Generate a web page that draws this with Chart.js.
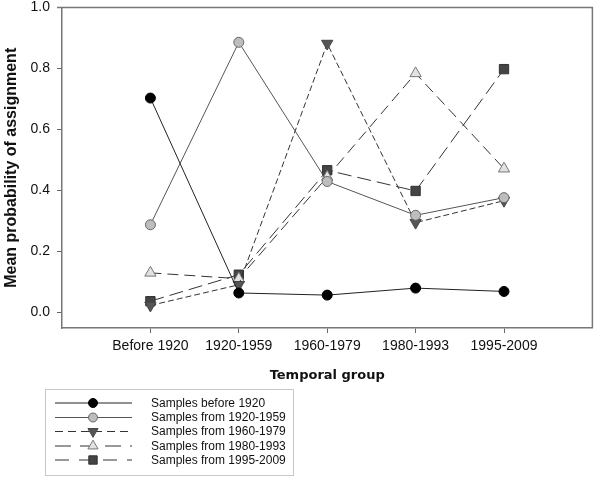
<!DOCTYPE html>
<html>
<head>
<meta charset="utf-8">
<script src="https://cdn.jsdelivr.net/npm/chart.js@4/dist/chart.umd.min.js"></script>
<style>
html,body{margin:0;padding:0;background:#fff;}
#wrap{width:600px;height:480px;position:relative;}
</style>
</head>
<body>
<div id="wrap"><canvas id="c" width="600" height="480"></canvas></div>
<script>
const categories = ['Before 1920', '1920-1959', '1960-1979', '1980-1993', '1995-2009'];
const yTicks = [0.0, 0.2, 0.4, 0.6, 0.8, 1.0];
const seriesNames = ['Samples before 1920', 'Samples from 1920-1959', 'Samples from 1960-1979', 'Samples from 1980-1993', 'Samples from 1995-2009'];
const before1920 = [0.703, 0.063, 0.056, 0.079, 0.068];
const from1920_1959 = [0.287, 0.886, 0.429, 0.318, 0.376];
const from1960_1979 = [0.022, 0.090, 0.882, 0.294, 0.366];
const from1980_1993 = [0.129, 0.110, 0.444, 0.784, 0.471];
const from1995_2009 = [0.036, 0.123, 0.466, 0.398, 0.798];

const styles = [
  {line:'#222', fill:'#000', border:'#000', dash:[], shape:'circle', r:5, rot:0},
  {line:'#555', fill:'#bdbdbd', border:'#666', dash:[], shape:'circle', r:5, rot:0},
  {line:'#333', fill:'#555', border:'#444', dash:[6,3], shape:'triangle', r:6.5, rot:180},
  {line:'#333', fill:'#e2e2e2', border:'#777', dash:[11,6], shape:'triangle', r:6.5, rot:0},
  {line:'#333', fill:'#444', border:'#333', dash:[14,6], shape:'rect', r:6.6, rot:0}
];
const allSeries = [before1920, from1920_1959, from1960_1979, from1980_1993, from1995_2009];

const datasets = allSeries.map((vals, k) => ({
  label: seriesNames[k],
  data: vals.map((v, i) => ({x: i + 1, y: v})),
  borderColor: styles[k].line,
  borderWidth: 1,
  borderDash: styles[k].dash,
  pointStyle: styles[k].shape,
  pointRotation: styles[k].rot,
  pointRadius: styles[k].r,
  pointBackgroundColor: styles[k].fill,
  pointBorderColor: styles[k].border,
  pointBorderWidth: 1,
  fill: false,
  tension: 0
}));

const frame = {
  id: 'frame',
  beforeDatasetsDraw(chart) {
    const {ctx, chartArea: a} = chart;
    ctx.save();
    ctx.strokeStyle = '#777';
    ctx.lineWidth = 1.5;
    ctx.beginPath();
    ctx.moveTo(57, a.top);
    ctx.lineTo(a.right, a.top);
    ctx.lineTo(a.right, a.bottom);
    ctx.stroke();
    ctx.restore();
  },
  afterDraw(chart) {
    const ctx = chart.ctx;
    ctx.save();
    ctx.strokeStyle = '#c8c8c8';
    ctx.lineWidth = 1;
    ctx.strokeRect(45.5, 389.5, 248, 86);
    const rows = [403, 417.5, 431.5, 446, 460];
    const legendDash = [[], [], [8, 5], [16, 9], [14, 10]];
    ctx.font = '12px "Liberation Sans", Arial, sans-serif';
    ctx.textBaseline = 'middle';
    rows.forEach((y, k) => {
      const s = styles[k];
      ctx.save();
      ctx.strokeStyle = s.line;
      ctx.lineWidth = 1;
      ctx.setLineDash(legendDash[k]);
      ctx.beginPath();
      ctx.moveTo(55, y);
      ctx.lineTo(132, y);
      ctx.stroke();
      ctx.setLineDash([]);
      ctx.fillStyle = s.fill;
      ctx.strokeStyle = s.border;
      Chart.helpers.drawPoint(ctx, {pointStyle: s.shape, rotation: s.rot, radius: s.r * 0.9, borderWidth: 1}, 93, y);
      ctx.restore();
      ctx.fillStyle = '#111';
      ctx.fillText(seriesNames[k], 151, y + 0.5);
    });
    ctx.restore();
  }
};

new Chart(document.getElementById('c'), {
  type: 'line',
  data: {datasets},
  plugins: [frame],
  options: {
    responsive: false,
    animation: false,
    layout: {padding: {left: 0, top: 6, right: 3, bottom: 93}},
    plugins: {legend: {display: false}, tooltip: {enabled: false}},
    scales: {
      x: {
        type: 'linear',
        min: 0, max: 6,
        afterFit(s) { s.height = 59; s.paddingLeft = 0; s.paddingRight = 0; },
        afterBuildTicks(s) {
          s.ticks = categories.map((c, i) => ({value: i + 1}));
        },
        ticks: {
          callback: v => categories[v - 1] || '',
          font: {family: '"Liberation Sans", Arial, sans-serif', size: 14},
          color: '#111',
          padding: 5,
          maxRotation: 0,
          autoSkip: false
        },
        grid: {drawOnChartArea: false, drawTicks: true, tickLength: 5, color: '#666', tickWidth: 1},
        border: {color: '#777', width: 1.5},
        title: {
          display: true,
          text: 'Temporal group',
          font: {family: '"DejaVu Sans", Verdana, sans-serif', size: 13, weight: 'bold'},
          color: '#111',
          padding: {top: 4, bottom: 4}
        }
      },
      y: {
        type: 'linear',
        min: -0.052, max: 1.0,
        afterFit(s) { s.width = 62; s.paddingTop = 0; s.paddingBottom = 0; },
        afterBuildTicks(s) {
          s.ticks = yTicks.map(v => ({value: v}));
        },
        ticks: {
          callback: v => Number(v).toFixed(1),
          font: {family: '"Liberation Sans", Arial, sans-serif', size: 14},
          color: '#111',
          padding: 7
        },
        grid: {drawOnChartArea: false, drawTicks: true, tickLength: 5, color: '#666', tickWidth: 1},
        border: {color: '#777', width: 1.5},
        title: {
          display: true,
          text: 'Mean probability of assignment',
          font: {family: '"Liberation Sans", Arial, sans-serif', size: 16, weight: 'bold'},
          color: '#111',
          padding: {top: 2, bottom: 2}
        }
      }
    }
  }
});
</script>
</body>
</html>
